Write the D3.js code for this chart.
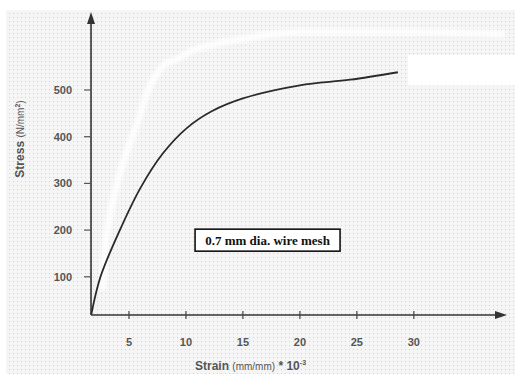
<!DOCTYPE html>
<html>
<head>
<meta charset="utf-8">
<script src="https://cdn.jsdelivr.net/npm/d3@7"></script>
<style>
  body { margin: 0; background: #fff; }
  svg { display: block; font-family: "Liberation Sans", Arial, sans-serif; }
</style>
</head>
<body>
<div id="chart"></div>
<script>
// data
var strain = [1.7, 2.5, 4.2, 6.0, 8.0, 10.1, 12.3, 15.0, 20.0, 24.4, 28.6];
var stress = [20, 100, 200, 290, 365, 419, 455, 482, 510, 522, 538];
var xTicks = [5, 10, 15, 20, 25, 30];
var yTicks = [100, 200, 300, 400, 500];
// white scan streak (a faint ghost of the plotted curve)
var ghostStrain = [2.7, 3.1, 3.8, 5.6, 8.1, 9.1, 11.2, 15.3, 20.0, 30.0, 38.0];
var ghostStress = [72, 200, 285, 420, 555, 565, 590, 611, 624, 624, 619];
var label = "0.7 mm dia. wire mesh";

var W = 515, H = 374;

var svg = d3.select("#chart").append("svg")
  .attr("width", W)
  .attr("height", H);

var x = d3.scaleLinear().domain([0, 38]).range([72, 505]);
var y = d3.scaleLinear().domain([0, 600]).range([323.5, 43.3]);

// scanned paper background with halftone dots
var defs = svg.append("defs");
var pat = defs.append("pattern")
  .attr("id", "dots")
  .attr("width", 4).attr("height", 4)
  .attr("patternUnits", "userSpaceOnUse");
pat.append("rect").attr("width", 4).attr("height", 4).attr("fill", "#f5f5f5");
pat.append("rect").attr("x", 1).attr("y", 1).attr("width", 1).attr("height", 1).attr("fill", "#d2d2d2");

var blur = defs.append("filter").attr("id", "soft");
blur.append("feGaussianBlur").attr("stdDeviation", 1.5);

svg.append("rect")
  .attr("x", 6).attr("y", 10)
  .attr("width", W - 6).attr("height", H - 10)
  .attr("fill", "url(#dots)");

// white streak and white patch from the scan
svg.append("path")
  .datum(d3.zip(ghostStrain, ghostStress))
  .attr("fill", "none")
  .attr("stroke", "#fff")
  .attr("stroke-width", 7)
  .attr("opacity", 0.8)
  .attr("filter", "url(#soft)")
  .attr("d", d3.line()
    .x(function (d) { return x(d[0]); })
    .y(function (d) { return y(d[1]); })
    .curve(d3.curveMonotoneY));

svg.append("rect")
  .attr("x", x(29.5)).attr("y", y(575))
  .attr("width", W - x(29.5)).attr("height", y(510) - y(575))
  .attr("fill", "#fff");

var axisColor = "#333";
var x0 = x(1.67), y0 = 315;

// y axis with arrow
svg.append("line")
  .attr("x1", x0).attr("x2", x0)
  .attr("y1", y0).attr("y2", 20)
  .attr("stroke", axisColor).attr("stroke-width", 1.6);
svg.append("path")
  .attr("d", "M" + (x0 - 4) + ",24 L" + x0 + ",12 L" + (x0 + 4) + ",24 Z")
  .attr("fill", axisColor);

// x axis with arrow
svg.append("line")
  .attr("x1", x0).attr("x2", 499)
  .attr("y1", y0).attr("y2", y0)
  .attr("stroke", axisColor).attr("stroke-width", 1.6);
svg.append("path")
  .attr("d", "M495," + (y0 - 4) + " L507," + y0 + " L495," + (y0 + 4) + " Z")
  .attr("fill", axisColor);

// y ticks
var yg = svg.append("g");
yg.selectAll("line").data(yTicks).enter().append("line")
  .attr("x1", x0 - 7).attr("x2", x0)
  .attr("y1", function (d) { return y(d); })
  .attr("y2", function (d) { return y(d); })
  .attr("stroke", "#555").attr("stroke-width", 1.2);
yg.selectAll("text").data(yTicks).enter().append("text")
  .attr("x", 72)
  .attr("y", function (d) { return y(d); })
  .attr("dy", "0.35em")
  .attr("text-anchor", "end")
  .attr("font-size", 11)
  .attr("font-weight", "bold")
  .attr("fill", "#555")
  .text(function (d) { return d; });

// x ticks
var xg = svg.append("g");
xg.selectAll("line").data(xTicks).enter().append("line")
  .attr("x1", function (d) { return x(d); })
  .attr("x2", function (d) { return x(d); })
  .attr("y1", y0 - 4).attr("y2", y0 + 4)
  .attr("stroke", "#444").attr("stroke-width", 1.2);
xg.selectAll("text").data(xTicks).enter().append("text")
  .attr("x", function (d) { return x(d); })
  .attr("y", 342)
  .attr("dy", "0.35em")
  .attr("text-anchor", "middle")
  .attr("font-size", 11)
  .attr("font-weight", "bold")
  .attr("fill", "#555")
  .text(function (d) { return d; });

// axis titles
var xt = svg.append("text")
  .attr("x", 195).attr("y", 370)
  .attr("font-size", 12)
  .attr("font-weight", "bold")
  .attr("fill", "#555");
xt.append("tspan").text("Strain ");
xt.append("tspan").attr("font-size", 10).attr("font-weight", "normal").text("(mm/mm)");
xt.append("tspan").text(" * 10");
xt.append("tspan").attr("font-size", 7).attr("dy", -5).text("-3");

var yt = svg.append("text")
  .attr("transform", "translate(24,139) rotate(-90)")
  .attr("text-anchor", "middle")
  .attr("font-size", 12)
  .attr("font-weight", "bold")
  .attr("fill", "#555");
yt.append("tspan").text("Stress ");
yt.append("tspan").attr("font-size", 10).attr("font-weight", "normal").text("(N/mm");
yt.append("tspan").attr("font-size", 7).attr("dy", -4).text("2");
yt.append("tspan").attr("font-size", 10).attr("font-weight", "normal").attr("dy", 4).text(")");

// stress-strain curve
svg.append("path")
  .datum(d3.zip(strain, stress))
  .attr("fill", "none")
  .attr("stroke", "#2a2a2a")
  .attr("stroke-width", 1.8)
  .attr("d", d3.line()
    .x(function (d) { return x(d[0]); })
    .y(function (d) { return y(d[1]); })
    .curve(d3.curveCatmullRom.alpha(0.5)));

// annotation box
var bx = x(10.8), by = y(202);
svg.append("rect")
  .attr("x", bx).attr("y", by)
  .attr("width", 145).attr("height", 22)
  .attr("fill", "#fff")
  .attr("stroke", "#111")
  .attr("stroke-width", 1.6);
svg.append("text")
  .attr("x", bx + 72.5).attr("y", by + 11)
  .attr("dy", "0.35em")
  .attr("text-anchor", "middle")
  .style("font-family", "'Liberation Serif', 'Times New Roman', serif")
  .attr("font-size", 13)
  .attr("font-weight", "bold")
  .attr("fill", "#111")
  .text(label);
</script>
</body>
</html>
